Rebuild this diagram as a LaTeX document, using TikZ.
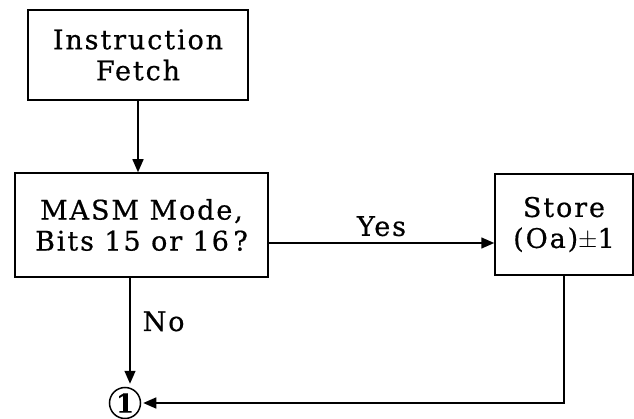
\documentclass[tikz,border=0pt]{standalone}
\usepackage{fontspec}
\setmainfont{DejaVu Serif}[LetterSpace=7, FakeBold=0.6]
\usetikzlibrary{arrows.meta,positioning,calc}

\begin{document}
\begin{tikzpicture}[x=1pt, y=-1pt, >={Triangle[length=13pt,width=11pt]},
  font=\fontsize{27}{31}\selectfont,
  block/.style={draw, line width=1.5pt, align=center, inner sep=0pt},
  flow/.style={->, line width=1.5pt},
  tag/.style={inner sep=0pt}]
\useasboundingbox (0,0) rectangle (634,419);

\node[block, minimum width=220pt, minimum height=90pt] (fetch) at (138,55) {Instruction\\Fetch};
\node[block, minimum width=253pt, minimum height=104pt] (masm) at (141.5,225) {MASM Mode,\\Bits 15 or 16\,?};
\node[block, minimum width=138pt, minimum height=101pt] (store) at (564,224.5) {Store\\(Oa)$\pm$1};
\node[draw, circle, line width=1.5pt, minimum size=31pt, inner sep=0pt, font=\fontsize{26}{26}\selectfont\bfseries] (one) at (125,403) {1};
\coordinate (turn) at (store.south |- one);

\draw[flow] (fetch.south) -- (masm.north -| fetch.south);
\draw[flow] (masm.east |- 0,243) -- node[tag, above=6pt] {Yes} (store.west |- 0,243);
\draw[flow, shorten >=3pt] (masm.south -| 130,0) -- node[tag, right=12pt, pos=0.4] {No} ([xshift=5pt]one.north);
\draw[flow, shorten >=2pt] (store.south) -- (turn) -- (one.east);

\end{tikzpicture}
\end{document}
